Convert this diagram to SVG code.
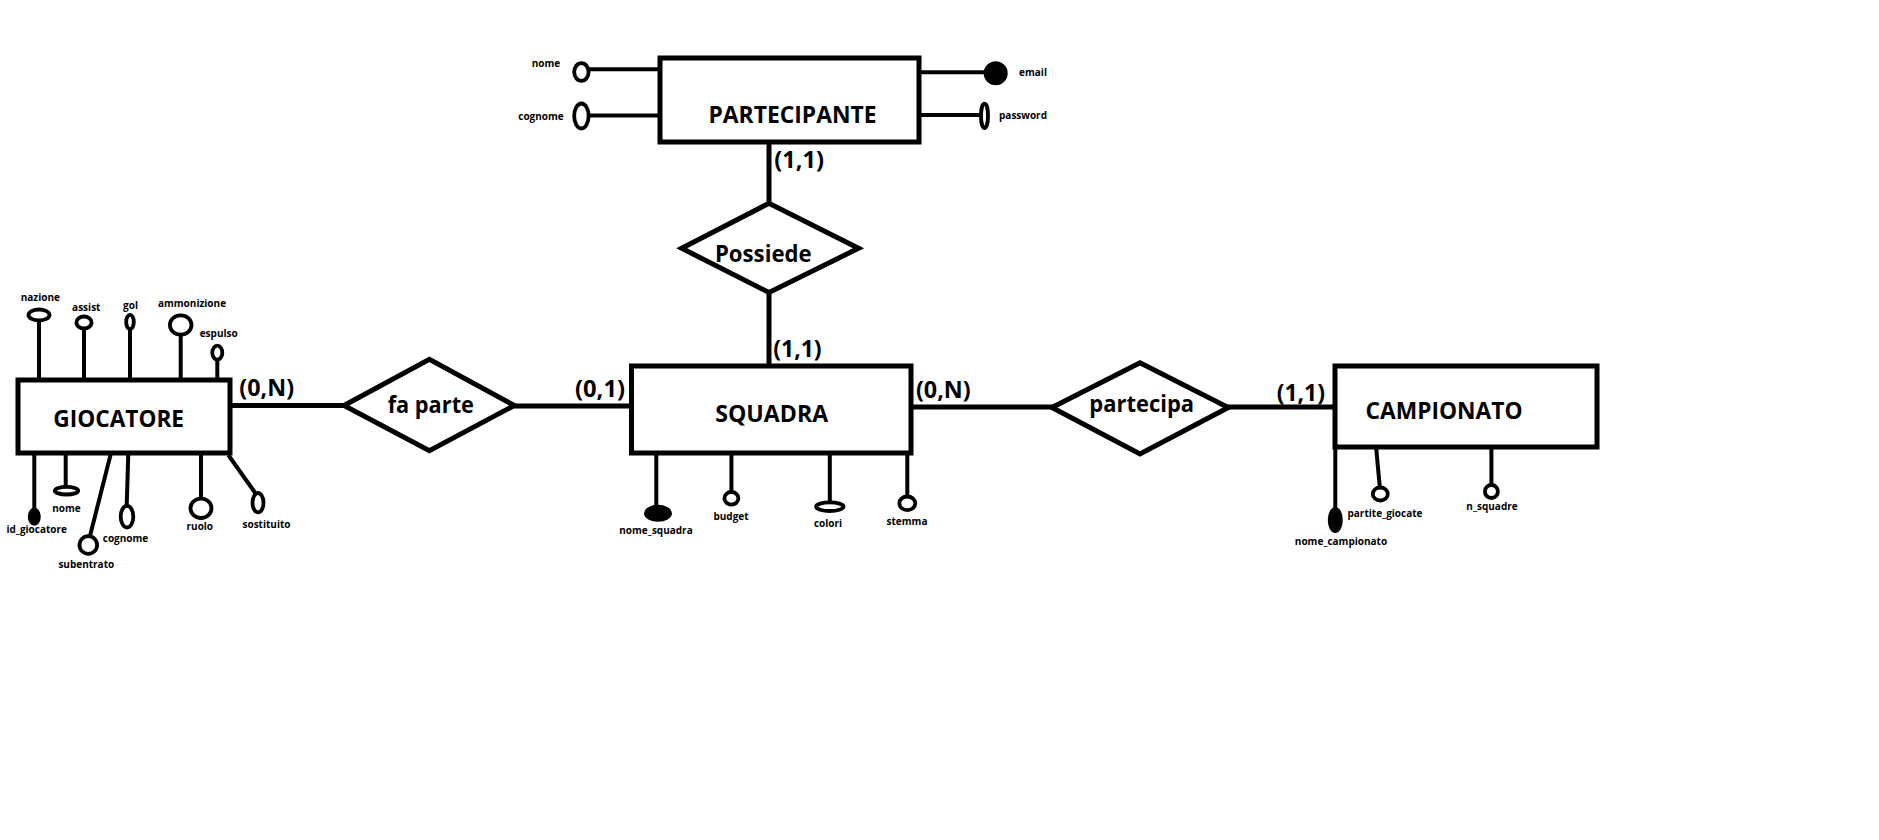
<svg xmlns="http://www.w3.org/2000/svg" width="1879" height="840" viewBox="0 0 1879 840">
<style>
.ent{fill:#fff;stroke:#000;stroke-width:5}
.rel{fill:#fff;stroke:#000;stroke-width:5;stroke-linejoin:miter}
.con{stroke:#000;stroke-width:5;fill:none}
.al{stroke:#000;stroke-width:4;fill:none}
.at{fill:#fff;stroke:#000;stroke-width:3.8}
.key{fill:#000;stroke:#000;stroke-width:2}
.big{font-family:"Open Sans","Noto Sans",sans-serif;font-weight:bold;font-size:23px;text-anchor:middle;fill:#000}
.card{font-family:"Open Sans","Noto Sans",sans-serif;font-weight:bold;font-size:23px;text-anchor:middle;fill:#000}
.sm{font-family:"Open Sans","Noto Sans",sans-serif;font-weight:bold;font-size:10px;text-anchor:middle;fill:#000}
</style>
<rect width="1879" height="840" fill="#fff"/>
<g id="connectors">
<line class="con" x1="230" y1="405.5" x2="344" y2="405.5"/>
<line class="con" x1="514" y1="406" x2="632" y2="406"/>
<line class="con" x1="911" y1="407" x2="1053" y2="407"/>
<line class="con" x1="1228" y1="407" x2="1335" y2="407"/>
<line class="con" x1="769" y1="142" x2="769" y2="203"/>
<line class="con" x1="769" y1="292" x2="769" y2="366"/>
<text class="card" x="266.7" y="396" textLength="54.7" lengthAdjust="spacingAndGlyphs">(0,N)</text>
<text class="card" x="600" y="396.7" textLength="50" lengthAdjust="spacingAndGlyphs">(0,1)</text>
<text class="card" x="799.2" y="168" textLength="49.7" lengthAdjust="spacingAndGlyphs">(1,1)</text>
<text class="card" x="797.5" y="356.7" textLength="48.3" lengthAdjust="spacingAndGlyphs">(1,1)</text>
<text class="card" x="943.3" y="398.3" textLength="54.7" lengthAdjust="spacingAndGlyphs">(0,N)</text>
<text class="card" x="1300.8" y="400.7" textLength="48.3" lengthAdjust="spacingAndGlyphs">(1,1)</text>
</g>
<g id="partecipante">
<line class="al" x1="589" y1="69.3" x2="660" y2="69.3"/>
<ellipse class="at" cx="581.4" cy="72" rx="7.2" ry="8.8"/>
<text class="sm" x="546" y="67">nome</text>
<line class="al" x1="589" y1="115.5" x2="660" y2="115.5"/>
<ellipse class="at" cx="581.4" cy="116" rx="7.2" ry="12.5"/>
<text class="sm" x="541" y="120">cognome</text>
<line class="al" x1="919" y1="72.3" x2="990" y2="72.3"/>
<circle class="key" cx="995.7" cy="73.3" r="11"/>
<text class="sm" x="1033" y="76">email</text>
<line class="al" x1="919" y1="115" x2="981" y2="115"/>
<ellipse class="at" cx="984.5" cy="115.8" rx="3.5" ry="12.2"/>
<text class="sm" x="1023" y="118.5">password</text>
<rect class="ent" x="660" y="58" width="259" height="84"/>
<text class="big" x="792.5" y="123.3" textLength="168" lengthAdjust="spacingAndGlyphs">PARTECIPANTE</text>
</g>
<g id="possiede">
<polygon class="rel" points="681.7,248.3 769,203.3 858.5,248.3 769,292.5"/>
<text class="big" x="763.3" y="261.7" textLength="96.7" lengthAdjust="spacingAndGlyphs">Possiede</text>
</g>
<g id="giocatore">
<line class="al" x1="39" y1="320" x2="39" y2="380"/>
<ellipse class="at" cx="39" cy="315" rx="10.5" ry="5.5"/>
<text class="sm" x="40.3" y="301">nazione</text>
<line class="al" x1="84" y1="328" x2="84" y2="380"/>
<ellipse class="at" cx="84" cy="322.5" rx="7.6" ry="6"/>
<text class="sm" x="86.3" y="311">assist</text>
<line class="al" x1="130" y1="329" x2="130" y2="380"/>
<ellipse class="at" cx="130" cy="322" rx="3.8" ry="7.2"/>
<text class="sm" x="130.5" y="309">gol</text>
<line class="al" x1="180.7" y1="334" x2="180.7" y2="380"/>
<ellipse class="at" cx="180.7" cy="325" rx="10.8" ry="9.7"/>
<text class="sm" x="192" y="307">ammonizione</text>
<line class="al" x1="217.3" y1="359" x2="217.3" y2="380"/>
<ellipse class="at" cx="217.3" cy="352.7" rx="5" ry="7"/>
<text class="sm" x="218.7" y="337">espulso</text>
<line class="al" x1="34.3" y1="453" x2="34.3" y2="512"/>
<ellipse class="key" cx="34.3" cy="516.7" rx="5.5" ry="8"/>
<text class="sm" x="36.7" y="533">id_giocatore</text>
<line class="al" x1="65.7" y1="453" x2="65.7" y2="487"/>
<ellipse class="at" cx="66.5" cy="490.7" rx="11.7" ry="3.8"/>
<text class="sm" x="66.5" y="512">nome</text>
<line class="al" x1="111" y1="453" x2="90" y2="536"/>
<ellipse class="at" cx="88.3" cy="545" rx="8.8" ry="8.8"/>
<text class="sm" x="86.3" y="568">subentrato</text>
<line class="al" x1="128.3" y1="453" x2="126.7" y2="506"/>
<ellipse class="at" cx="127" cy="516.7" rx="6.3" ry="10.8"/>
<text class="sm" x="125.5" y="542">cognome</text>
<line class="al" x1="201" y1="453" x2="201" y2="499"/>
<ellipse class="at" cx="201" cy="508.3" rx="10.5" ry="9.7"/>
<text class="sm" x="199.8" y="530">ruolo</text>
<line class="al" x1="228.3" y1="455" x2="256" y2="494"/>
<ellipse class="at" cx="258" cy="502.7" rx="5.5" ry="9.7"/>
<text class="sm" x="266.5" y="528">sostituito</text>
<rect class="ent" x="18" y="380" width="212" height="73"/>
<text class="big" x="118.7" y="426.7" font-size="22" textLength="130.7" lengthAdjust="spacingAndGlyphs">GIOCATORE</text>
</g>
<g id="fa_parte">
<polygon class="rel" points="344,405.5 429.4,359.3 514.2,405.5 429.4,450.7"/>
<text class="big" x="430.8" y="412.7" textLength="86.3" lengthAdjust="spacingAndGlyphs">fa parte</text>
</g>
<g id="squadra">
<line class="al" x1="656.3" y1="453" x2="656.3" y2="507"/>
<ellipse class="key" cx="658" cy="513.3" rx="13" ry="7.5"/>
<text class="sm" x="656" y="534">nome_squadra</text>
<line class="al" x1="731.4" y1="453" x2="731.4" y2="492"/>
<ellipse class="at" cx="731.4" cy="498.3" rx="7" ry="6.3"/>
<text class="sm" x="731" y="520">budget</text>
<line class="al" x1="829.8" y1="453" x2="829.8" y2="502"/>
<ellipse class="at" cx="829.8" cy="506.7" rx="13.7" ry="4.3"/>
<text class="sm" x="828" y="527">colori</text>
<line class="al" x1="907.3" y1="453" x2="907.3" y2="497"/>
<ellipse class="at" cx="907.3" cy="503.3" rx="8" ry="6.8"/>
<text class="sm" x="907" y="525">stemma</text>
<rect class="ent" x="631.5" y="366" width="279.5" height="87"/>
<text class="big" x="771.7" y="421.7" font-size="22" textLength="113" lengthAdjust="spacingAndGlyphs">SQUADRA</text>
</g>
<g id="partecipa">
<polygon class="rel" points="1052,407.5 1140,362.7 1228.3,407.5 1140,454"/>
<text class="big" x="1141.7" y="411.7" textLength="104.7" lengthAdjust="spacingAndGlyphs">partecipa</text>
</g>
<g id="campionato">
<line class="al" x1="1335.3" y1="446" x2="1335.3" y2="510"/>
<ellipse class="key" cx="1335.3" cy="520" rx="6.5" ry="12"/>
<text class="sm" x="1341" y="545">nome_campionato</text>
<line class="al" x1="1376" y1="446" x2="1379.8" y2="487"/>
<ellipse class="at" cx="1380.3" cy="494" rx="7.5" ry="6.5"/>
<text class="sm" x="1385" y="517">partite_giocate</text>
<line class="al" x1="1491.4" y1="446" x2="1491.4" y2="484"/>
<ellipse class="at" cx="1491.4" cy="491.5" rx="6.5" ry="6.5"/>
<text class="sm" x="1492" y="510">n_squadre</text>
<rect class="ent" x="1335" y="366" width="262" height="81"/>
<text class="big" x="1444" y="419" font-size="25" textLength="157" lengthAdjust="spacingAndGlyphs">CAMPIONATO</text>
</g>
</svg>
